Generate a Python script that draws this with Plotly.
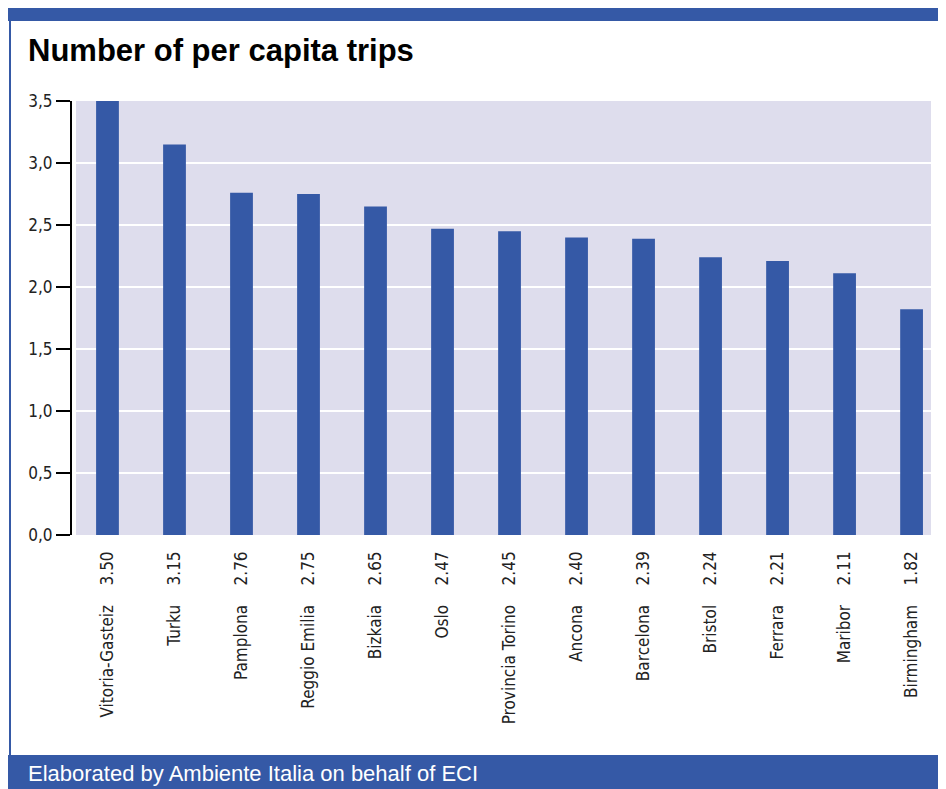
import plotly.graph_objects as go

W, H = 946, 789
# the page body has an 8px margin, so the figure is drawn 8px right and down
OFF = 8

cities = ['Vitoria-Gasteiz', 'Turku', 'Pamplona', 'Reggio Emilia', 'Bizkaia', 'Oslo',
          'Provincia Torino', 'Ancona', 'Barcelona', 'Bristol', 'Ferrara', 'Maribor',
          'Birmingham']
trips = [3.50, 3.15, 2.76, 2.75, 2.65, 2.47, 2.45, 2.40, 2.39, 2.24, 2.21, 2.11, 1.82]
y_ticks = [0, 0.5, 1.0, 1.5, 2.0, 2.5, 3.0, 3.5]

title = 'Number of per capita trips'
source = 'Elaborated by Ambiente Italia on behalf of ECI'

BLUE = '#3559a6'
LAVENDER = '#dedded'


def px(x):
    return (x - OFF) / W


def py(y):
    return 1 - (y - OFF) / H


# tick text: city name, gap, value (reads bottom to top)
gap = '\u00a0' * 4
labels = [f'{c}{gap}{v:.2f}' for c, v in zip(cities, trips)]

fig = go.Figure()
fig.add_trace(go.Bar(x=cities, y=trips, marker_color=BLUE, marker_line_width=0,
                     width=0.34, hoverinfo='x+y'))

fig.update_layout(
    width=W, height=H,
    margin=dict(l=0, r=0, t=0, b=0),
    paper_bgcolor='white',
    plot_bgcolor=LAVENDER,
    separators=',.',
    showlegend=False,
    font=dict(family='Liberation Sans Narrow, DejaVu Sans Condensed, sans-serif',
              size=17, color='#222222'),
    xaxis=dict(
        domain=[px(76), px(931)],
        type='category',
        range=[-0.47, 12.29],
        tickvals=cities, ticktext=labels,
        tickangle=-90,
        ticks='', showgrid=False, showline=False,
        ticklabelstandoff=12,
        automargin=False,
    ),
    yaxis=dict(
        domain=[py(535), py(101)],
        anchor='free', position=px(71),
        range=[0, 3.5],
        tickvals=y_ticks, tickformat='.1f',
        ticks='outside', ticklen=14, tickwidth=2, tickcolor='black',
        showline=True, linewidth=2, linecolor='black',
        showgrid=True, gridcolor='white', gridwidth=2,
        zeroline=False,
        automargin=False,
    ),
    shapes=[
        # top bar
        dict(type='rect', xref='paper', yref='paper', x0=px(8), x1=1, y0=py(21), y1=1,
             fillcolor=BLUE, line_width=0, layer='above'),
        # left border
        dict(type='rect', xref='paper', yref='paper', x0=px(9), x1=px(11), y0=py(755), y1=py(21),
             fillcolor=BLUE, line_width=0, layer='above'),
        # footer band
        dict(type='rect', xref='paper', yref='paper', x0=px(8), x1=1, y0=0, y1=py(755),
             fillcolor=BLUE, line_width=0, layer='above'),
    ],
    annotations=[
        dict(text=f'<b>{title}</b>', xref='paper', yref='paper', x=px(26), y=py(50),
             xanchor='left', yanchor='middle', showarrow=False,
             font=dict(family='Liberation Sans, Arial, sans-serif', size=31, color='black')),
        dict(text=source, xref='paper', yref='paper', x=px(26), y=py(773),
             xanchor='left', yanchor='middle', showarrow=False,
             font=dict(family='Liberation Sans, Arial, sans-serif', size=22, color='white')),
    ],
)

fig.write_html('out.html')
